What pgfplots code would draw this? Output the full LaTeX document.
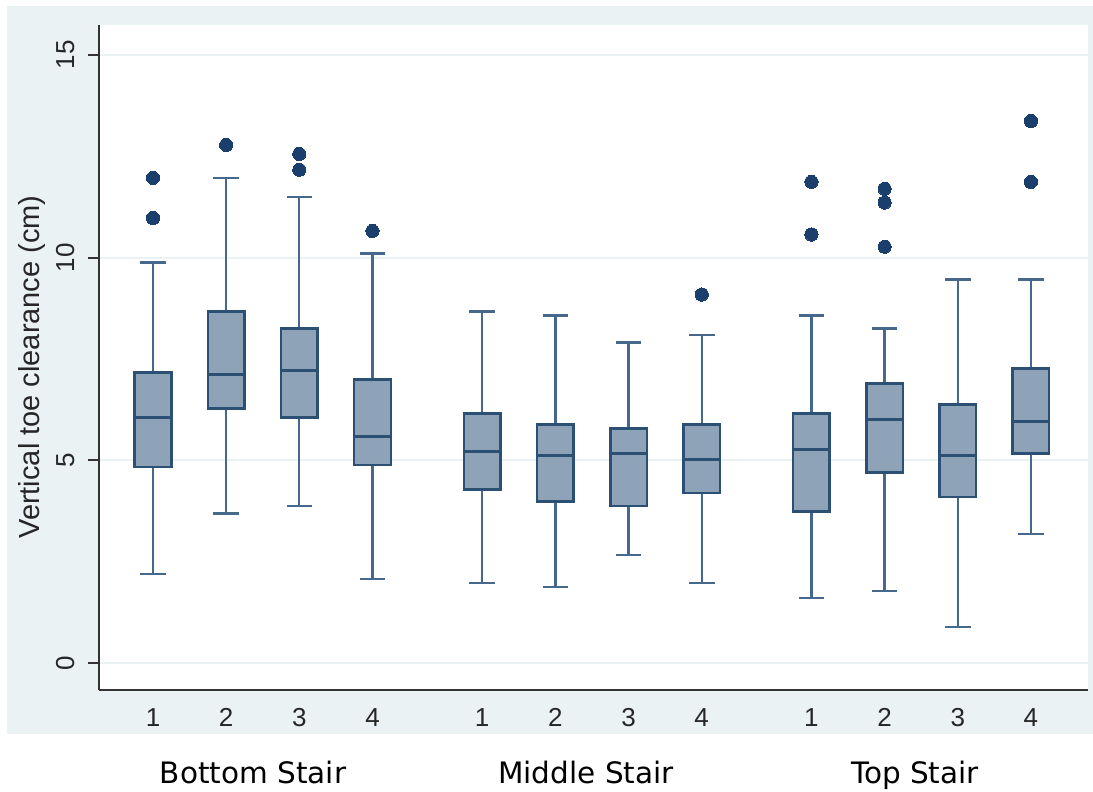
\documentclass[border=0pt]{standalone}
\usepackage{pgfplots}
\pgfplotsset{compat=1.18}
\usepgfplotslibrary{statistics}
\usepackage{fontspec}
\setmainfont{Liberation Sans}
\newfontfamily\verdana{DejaVu Sans}
\definecolor{bgc}{RGB}{234,242,243}
\definecolor{gridc}{RGB}{234,242,244}
\definecolor{boxfill}{RGB}{142,163,184}
\definecolor{boxedge}{RGB}{44,79,116}
\definecolor{whisk}{RGB}{70,104,140}
\definecolor{dotc}{RGB}{26,63,108}
\begin{document}
\begin{tikzpicture}
\path[use as bounding box] (0,0) rectangle (1093bp,792bp);
\fill[bgc] (7bp,58bp) rectangle (1093bp,786bp);
\begin{axis}[
  at={(99bp,102bp)}, anchor=south west,
  scale only axis, width=989bp, height=665bp,
  xmin=0.262, xmax=13.78, ymin=-0.666, ymax=15.74,
  axis background/.style={fill=white},
  axis lines*=left,
  axis line style={draw=black!80, line width=2bp},
  ytick={0,5,10,15},
  xtick={1,2,3,4,5.5,6.5,7.5,8.5,10,11,12,13},
  xticklabels={1,2,3,4,1,2,3,4,1,2,3,4},
  xtick style={draw=none},
  ytick style={draw=black!80, line width=2bp},
  tick align=outside,
  major tick length=11bp,
  ymajorgrids,
  grid style={draw=gridc, line width=2bp},
  /pgf/number format/assume math mode=true,
  tick label style={font=\fontsize{26bp}{30bp}\selectfont, text=black!85},
  yticklabel style={rotate=90, anchor=south, yshift=10bp},
  xticklabel style={yshift=-4bp},
  boxplot/draw direction=y,
  boxplot/box extend=0.5,
  boxplot/whisker extend=0.35,
  boxplot/every box/.style={draw=boxedge, fill=boxfill, line width=2.5bp},
  boxplot/every whisker/.style={draw=whisk, line width=2.3bp},
  boxplot/every median/.style={draw=boxedge, line width=2.5bp},
  every axis plot/.append style={mark=*, mark size=6.6bp, mark options={fill=dotc, draw=dotc, line width=0pt}},
]
\addplot[boxplot prepared={draw position=1, lower whisker=2.19, lower quartile=4.83, median=6.06, upper quartile=7.17, upper whisker=9.88}] table[row sep=\\, y index=0] {11.97\\ 10.98\\};
\addplot[boxplot prepared={draw position=2, lower whisker=3.69, lower quartile=6.28, median=7.12, upper quartile=8.67, upper whisker=11.97}] table[row sep=\\, y index=0] {12.78\\};
\addplot[boxplot prepared={draw position=3, lower whisker=3.87, lower quartile=6.06, median=7.22, upper quartile=8.25, upper whisker=11.5}] table[row sep=\\, y index=0] {12.56\\ 12.17\\};
\addplot[boxplot prepared={draw position=4, lower whisker=2.07, lower quartile=4.88, median=5.59, upper quartile=7.0, upper whisker=10.1}] table[row sep=\\, y index=0] {10.66\\};
\addplot[boxplot prepared={draw position=5.5, lower whisker=1.97, lower quartile=4.28, median=5.22, upper quartile=6.16, upper whisker=8.67}] coordinates {};
\addplot[boxplot prepared={draw position=6.5, lower whisker=1.87, lower quartile=3.99, median=5.12, upper quartile=5.89, upper whisker=8.57}] coordinates {};
\addplot[boxplot prepared={draw position=7.5, lower whisker=2.66, lower quartile=3.87, median=5.17, upper quartile=5.79, upper whisker=7.91}] coordinates {};
\addplot[boxplot prepared={draw position=8.5, lower whisker=1.97, lower quartile=4.19, median=5.02, upper quartile=5.89, upper whisker=8.10}] table[row sep=\\, y index=0] {9.09\\};
\addplot[boxplot prepared={draw position=10, lower whisker=1.60, lower quartile=3.74, median=5.27, upper quartile=6.16, upper whisker=8.57}] table[row sep=\\, y index=0] {11.87\\ 10.57\\};
\addplot[boxplot prepared={draw position=11, lower whisker=1.77, lower quartile=4.70, median=6.01, upper quartile=6.9, upper whisker=8.25}] table[row sep=\\, y index=0] {11.7\\ 11.36\\ 10.27\\};
\addplot[boxplot prepared={draw position=12, lower whisker=0.89, lower quartile=4.09, median=5.12, upper quartile=6.38, upper whisker=9.46}] coordinates {};
\addplot[boxplot prepared={draw position=13, lower whisker=3.18, lower quartile=5.17, median=5.96, upper quartile=7.27, upper whisker=9.46}] table[row sep=\\, y index=0] {13.37\\ 11.87\\};
\end{axis}
\node[rotate=90, font=\fontsize{29bp}{32bp}\selectfont, text=black!85] at (32bp,425bp) {Vertical toe clearance (cm)};
\node[anchor=base, font=\verdana\fontsize{29.5bp}{32bp}\selectfont] at (253bp,9bp) {Bottom Stair};
\node[anchor=base, font=\verdana\fontsize{29.5bp}{32bp}\selectfont] at (586bp,9bp) {Middle Stair};
\node[anchor=base, font=\verdana\fontsize{29.5bp}{32bp}\selectfont] at (915bp,9bp) {Top Stair};
\end{tikzpicture}
\end{document}
